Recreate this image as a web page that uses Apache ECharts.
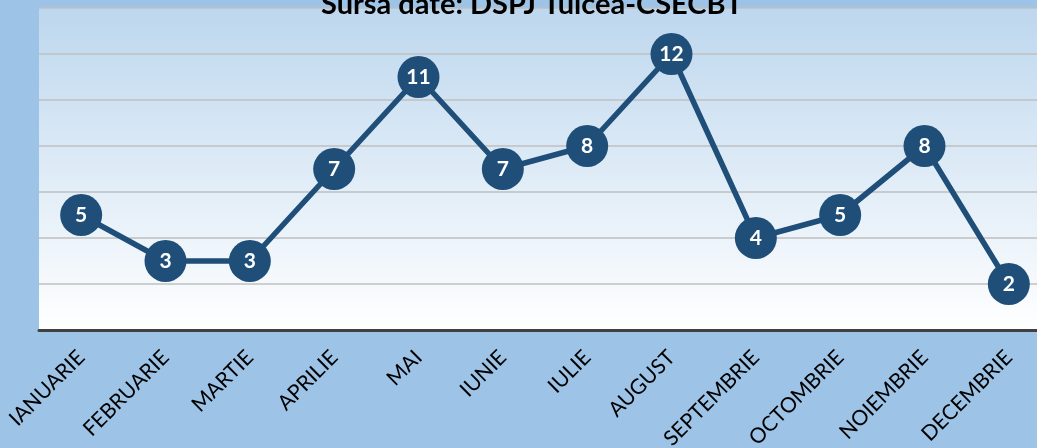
<!DOCTYPE html>
<html>
<head>
<meta charset="utf-8">
<script src="https://cdn.jsdelivr.net/npm/echarts@6/dist/echarts.min.js"></script>
<style>
  html, body { margin: 0; padding: 0; background: #9DC3E6; }
  #chart { width: 1037px; height: 448px; }
</style>
</head>
<body>
<div id="chart"></div>
<script>
// Monthly counts, source DSPJ Tulcea-CSECBT
const months = ['IANUARIE', 'FEBRUARIE', 'MARTIE', 'APRILIE', 'MAI', 'IUNIE',
  'IULIE', 'AUGUST', 'SEPTEMBRIE', 'OCTOMBRIE', 'NOIEMBRIE', 'DECEMBRIE'];
const counts = [5, 3, 3, 7, 11, 7, 8, 12, 4, 5, 8, 2];
const titleText = 'Sursa date: DSPJ Tulcea-CSECBT';

const chart = echarts.init(document.getElementById('chart'));
chart.setOption({
  backgroundColor: '#9DC3E6',
  animation: false,
  title: {
    text: titleText,
    left: 316,
    top: -15,
    textStyle: { fontFamily: 'Lato', fontWeight: 'bold', fontSize: 29, color: '#000' }
  },
  grid: {
    left: 39,
    top: 8,
    right: -14,
    height: 322,
    outerBoundsMode: 'none',
    containLabel: false,
    show: true,
    borderWidth: 0,
    backgroundColor: {
      type: 'linear', x: 0, y: 0, x2: 0, y2: 1,
      colorStops: [
        { offset: 0, color: '#BDD7EE' },
        { offset: 1, color: '#FFFFFF' }
      ]
    }
  },
  xAxis: {
    type: 'category',
    data: months,
    boundaryGap: true,
    axisLine: { lineStyle: { color: '#404040', width: 3 } },
    axisTick: { show: false },
    axisLabel: {
      rotate: 45,
      margin: 24,
      color: '#000',
      fontFamily: 'Lato',
      fontSize: 21,
      interval: 0
    }
  },
  yAxis: {
    type: 'value',
    min: 0,
    max: 14,
    interval: 2,
    axisLine: { show: false },
    axisTick: { show: false },
    axisLabel: { show: false },
    splitLine: { lineStyle: { color: '#BFBFBF', width: 1.5 } }
  },
  series: [{
    type: 'line',
    data: counts,
    symbol: 'circle',
    symbolSize: 42,
    lineStyle: { color: '#1F4E79', width: 5.5 },
    itemStyle: { color: '#1F4E79' },
    label: {
      show: true,
      position: 'inside',
      color: '#FFFFFF',
      fontFamily: 'Lato',
      fontWeight: 'bold',
      fontSize: 21
    }
  }]
});
</script>
</body>
</html>
